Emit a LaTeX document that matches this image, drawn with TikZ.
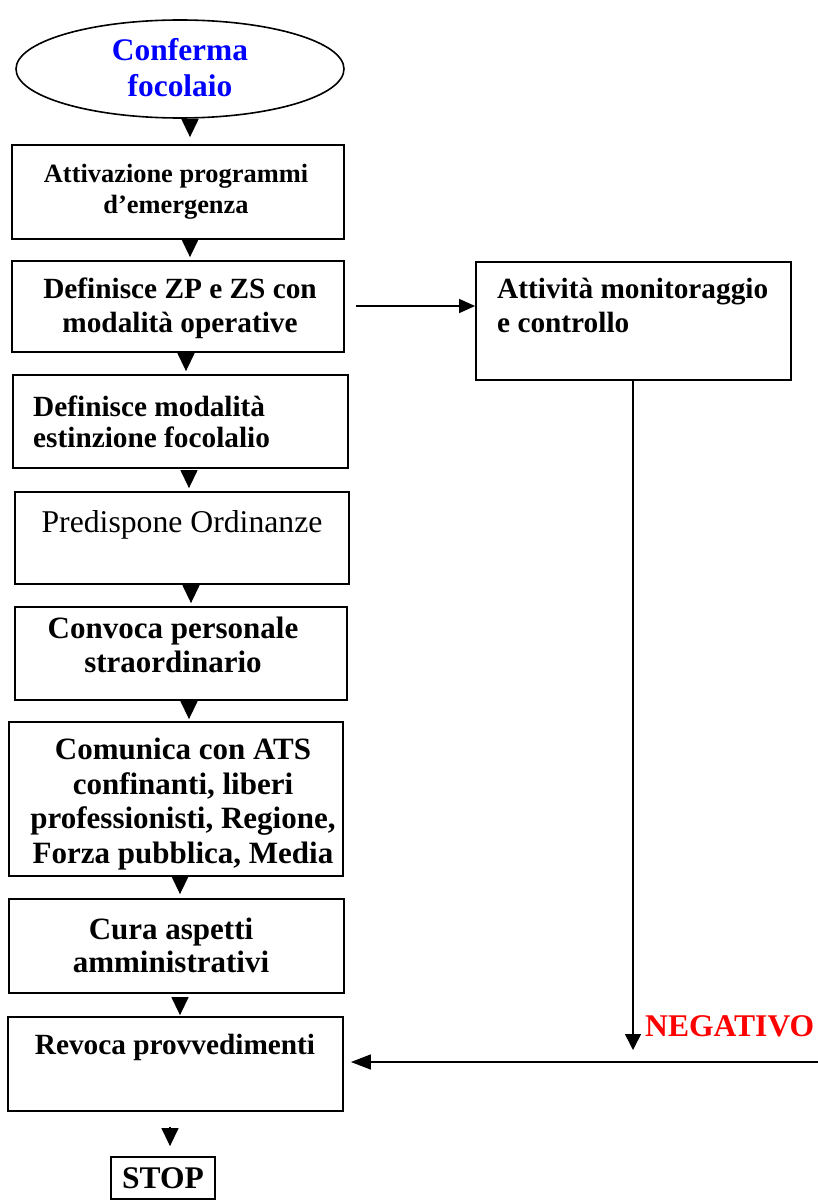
\documentclass[tikz,border=0pt]{standalone}
\usepackage{fontspec}
\setmainfont{Liberation Serif}
\usetikzlibrary{arrows.meta,shapes.geometric}
\begin{document}
\begin{tikzpicture}[x=1pt,y=-1pt,
  box/.style={draw, line width=1.8pt, rectangle, inner sep=0pt},
  tri/.style={-{Triangle[width=17pt,length=18pt]}, line width=1.3pt},
  harrow/.style={-{Triangle[width=14pt,length=16pt]}, line width=1.5pt},
  txt/.style={inner sep=0pt, font=\bfseries\fontsize{31}{34.5}\selectfont, align=center},
  txtm/.style={inner sep=0pt, font=\bfseries\fontsize{29.3}{32}\selectfont}]
\useasboundingbox (0,0) rectangle (818,1201);
% shapes
\node[draw, ellipse, line width=1.6pt, minimum width=328pt, minimum height=98pt, inner sep=0pt] (e) at (180,69) {};
\node[box, minimum width=332pt, minimum height=94pt] (b1) at (178,192) {};
\node[box, minimum width=332pt, minimum height=91pt] (b2) at (178,306.5) {};
\node[box, minimum width=335pt, minimum height=93pt] (b3) at (180.5,421.5) {};
\node[box, minimum width=334pt, minimum height=92pt] (b4) at (182,538) {};
\node[box, minimum width=332pt, minimum height=93pt] (b5) at (181,653.5) {};
\node[box, minimum width=334pt, minimum height=154pt] (b6) at (176,799) {};
\node[box, minimum width=335pt, minimum height=94pt] (b7) at (176.5,946) {};
\node[box, minimum width=335pt, minimum height=94pt] (b8) at (175.5,1064) {};
\node[box, minimum width=315pt, minimum height=118pt] (mon) at (633.5,321) {};
\node[box, minimum width=104pt, minimum height=42pt, font=\bfseries\fontsize{31.5}{34}\selectfont] (stop) at (163,1178) {STOP};
% texts
\node[txt, text=blue, font=\bfseries\fontsize{31.4}{36}\selectfont] (et) at (180,68) {Conferma\\focolaio};
\node[txt, font=\bfseries\fontsize{26.4}{31}\selectfont] (b1t) at (176,191.5) {Attivazione programmi\\d’emergenza};
\node[txtm, align=center, font=\bfseries\fontsize{29.3}{34}\selectfont] (b2t) at (180,308) {Definisce ZP e ZS con\\modalità operative};
\node[txtm, align=left, anchor=west, font=\bfseries\fontsize{29.3}{30.5}\selectfont] (b3t) at (33,422) {Definisce modalità\\estinzione focolalio};
\node[inner sep=0pt, font=\fontsize{31.7}{34}\selectfont] (b4t) at (182,525) {Predispone Ordinanze};
\node[txt, font=\bfseries\fontsize{31}{33.5}\selectfont] (b5t) at (173,645) {Convoca personale\\straordinario};
\node[txt] (b6t) at (183,804) {Comunica con ATS\\confinanti, liberi\\professionisti, Regione,\\Forza pubblica, Media};
\node[txt, font=\bfseries\fontsize{31}{33}\selectfont] (b7t) at (171,945.5) {Cura aspetti\\amministrativi};
\node[txtm, anchor=base] (b8t) at (175,1054) {Revoca provvedimenti};
\node[txtm, align=left, anchor=west, font=\bfseries\fontsize{29.3}{34}\selectfont] (mont) at (497,305) {Attività monitoraggio\\e controllo};
\node[inner sep=0pt, anchor=west, text=red, font=\bfseries\fontsize{31.6}{34}\selectfont] (neg) at (645,1026) {NEGATIVO};
% connector x positions
\coordinate (a1) at (190,0);
\coordinate (a2) at (190,0);
\coordinate (a3) at (186,0);
\coordinate (a4) at (189,0);
\coordinate (a5) at (191,0);
\coordinate (a6) at (189,0);
\coordinate (a7) at (180,0);
\coordinate (a8) at (180,0);
\coordinate (a9) at (170,0);
\draw[tri, shorten <=2pt, shorten >=7pt] (e.south -| a1) -- (b1.north -| a1);
\draw[tri, shorten <=1pt, shorten >=3pt] (b1.south -| a2) -- (b2.north -| a2);
\draw[tri, shorten <=2pt, shorten >=3pt] (b2.south -| a3) -- (b3.north -| a3);
\draw[tri, shorten <=3pt, shorten >=3pt] (b3.south -| a4) -- (b4.north -| a4);
\draw[tri, shorten <=2pt, shorten >=3pt] (b4.south -| a5) -- (b5.north -| a5);
\draw[tri, shorten <=2pt, shorten >=2pt] (b5.south -| a6) -- (b6.north -| a6);
\draw[tri, shorten <=1pt, shorten >=4pt] (b6.south -| a7) -- (b7.north -| a7);
\draw[tri, shorten <=5pt, shorten >=1pt] (b7.south -| a8) -- (b8.north -| a8);
\draw[tri, shorten <=15pt, shorten >=10pt] (b8.south -| a9) -- (stop.north -| a9);
% side connectors
\coordinate (b2r) at (356,306);
\draw[harrow] (b2r) -- (b2r -| mon.west);
\coordinate (negend) at (633,1050);
\draw[-{Triangle[width=16pt,length=16pt]}, line width=1.5pt] (mon.south -| negend) -- (negend);
\coordinate (rin) at (818,1062);
\draw[-{Triangle[width=15pt,length=20pt]}, line width=1.5pt, shorten >=7pt] (rin) -- (rin -| b8.east);
\end{tikzpicture}
\end{document}
